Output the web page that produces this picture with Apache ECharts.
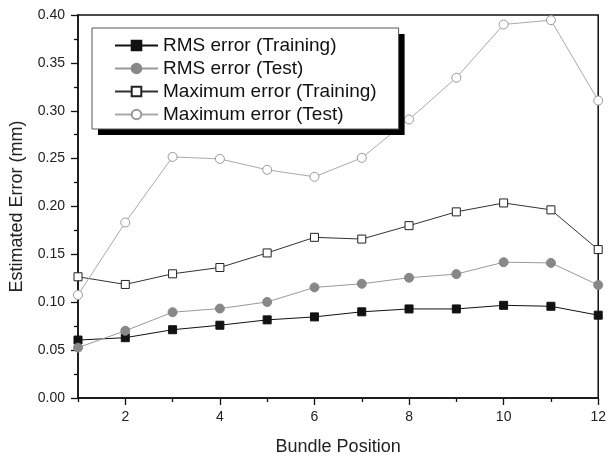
<!DOCTYPE html>
<html><head><meta charset="utf-8">
<script src="https://cdn.jsdelivr.net/npm/echarts@6/dist/echarts.min.js"></script>
<style>html,body{margin:0;padding:0;background:#fff}#c{width:609px;height:461px}</style>
</head><body><div id="c"></div>
<script>
const positions = [1,2,3,4,5,6,7,8,9,10,11,12];
const rmsTraining = [0.0605,0.063,0.0713,0.076,0.0816,0.0847,0.090,0.093,0.093,0.0968,0.0958,0.0865];
const rmsTest     = [0.0526,0.0702,0.0896,0.0934,0.1003,0.1155,0.1193,0.1256,0.1294,0.1418,0.1411,0.118];
const maxTraining = [0.1266,0.1186,0.1297,0.1363,0.1515,0.1678,0.166,0.180,0.1944,0.2037,0.1965,0.155];
const maxTest     = [0.1076,0.1833,0.2518,0.2497,0.2383,0.231,0.2508,0.2909,0.3345,0.3901,0.3946,0.3106];
const seriesNames = ['RMS error (Training)','RMS error (Test)','Maximum error (Training)','Maximum error (Test)'];
const xMajorTicks = [2,4,6,8,10,12];
const xMinorTicks = [1,3,5,7,9,11];
const xTitle = 'Bundle Position';
const yTitle = 'Estimated Error (mm)';

const FONT = 'Liberation Sans, Arial, sans-serif';
const pair = arr => positions.map((x,i)=>[x,arr[i]]);

const styles = [
  {symbol:'rect', size:8, line:'#111', fill:'#111', border:'#111'},
  {symbol:'circle', size:9, line:'#999', fill:'#888', border:'#888'},
  {symbol:'rect', size:8, line:'#333', fill:'#fff', border:'#222'},
  {symbol:'circle', size:9, line:'#aaa', fill:'#fff', border:'#999'}
];
const datasets = [rmsTraining, rmsTest, maxTraining, maxTest];

const legendBase = {
  data:seriesNames, orient:'vertical', left:92, top:28,
  padding:[8,22,5,22], itemWidth:43, itemHeight:12, itemGap:4,
  selectedMode:false
};

const chart = echarts.init(document.getElementById('c'), null, {renderer:'canvas'});
chart.setOption({
  animation:false,
  backgroundColor:'#fff',
  grid:{left:78, right:10, top:15, bottom:60, show:true, borderColor:'#111', borderWidth:1.5, backgroundColor:'transparent'},
  legend:[
    Object.assign({}, legendBase, {
      z:10,
      textStyle:{fontSize:19, fontFamily:FONT, color:'rgba(0,0,0,0)'},
      itemStyle:{opacity:0}, lineStyle:{opacity:0},
      backgroundColor:'#fff', borderWidth:0,
      shadowColor:'#000', shadowOffsetX:6, shadowOffsetY:6, shadowBlur:0
    }),
    Object.assign({}, legendBase, {
      z:11,
      textStyle:{fontSize:19, fontFamily:FONT, color:'#111'},
      backgroundColor:'transparent', borderColor:'#555', borderWidth:1
    })
  ],
  xAxis:[{
    type:'value', min:1, max:12, position:'bottom',
    name:xTitle, nameLocation:'middle', nameGap:40,
    nameTextStyle:{fontSize:18, fontFamily:FONT, color:'#222'},
    axisLine:{lineStyle:{color:'#111', width:1.5}},
    axisTick:{show:true, inside:false, length:7, customValues:xMajorTicks, lineStyle:{color:'#111', width:1.3}},
    axisLabel:{customValues:xMajorTicks, fontSize:14, fontFamily:FONT, color:'#222', margin:12},
    splitLine:{show:false}
  },{
    type:'value', min:1, max:12, position:'bottom',
    axisLine:{show:false},
    axisTick:{show:true, inside:false, length:4, customValues:xMinorTicks, lineStyle:{color:'#111', width:1.3}},
    axisLabel:{show:false},
    splitLine:{show:false}
  }],
  yAxis:{
    type:'value', min:0, max:0.4, interval:0.05,
    name:yTitle, nameLocation:'middle', nameGap:52,
    nameTextStyle:{fontSize:18, fontFamily:FONT, color:'#222'},
    axisLine:{show:true, lineStyle:{color:'#111', width:1.5}},
    axisTick:{show:true, inside:false, length:7, lineStyle:{color:'#111', width:1.3}},
    minorTick:{show:true, splitNumber:2, length:4, lineStyle:{color:'#111', width:1.3}},
    axisLabel:{formatter:v=>v.toFixed(2), fontSize:14, fontFamily:FONT, color:'#222', margin:13},
    splitLine:{show:false}
  },
  series: datasets.map((d,i)=>({
    name:seriesNames[i], type:'line', xAxisIndex:0,
    data:pair(d), symbol:styles[i].symbol, symbolSize:styles[i].size,
    showAllSymbol:true, clip:true,
    lineStyle:{color:styles[i].line, width:1},
    itemStyle:{color:styles[i].fill, borderColor:styles[i].border, borderWidth:1, opacity:1},
    z: 2+i
  }))
});
</script></body></html>
